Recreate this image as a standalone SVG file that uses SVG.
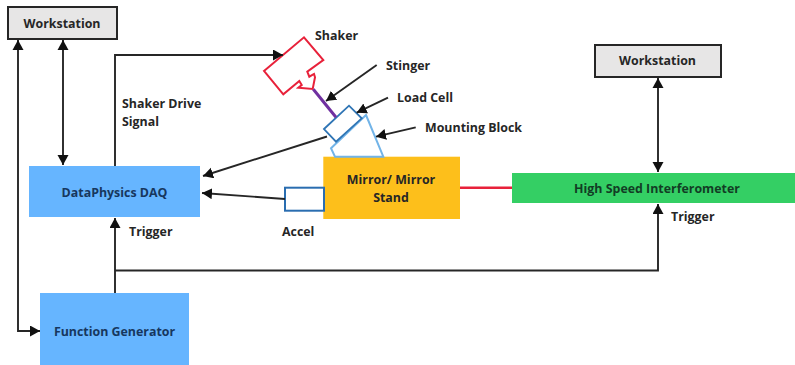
<svg xmlns="http://www.w3.org/2000/svg" width="795" height="365" viewBox="0 0 795 365">
<style>
text{font-family:"Open Sans","Liberation Sans",sans-serif;font-weight:700;font-size:12.4px;fill:#262626}
.c{text-anchor:middle}
.navy{fill:#17375e}
.grn{fill:#123d24}
.ws{fill:#e7e6e6;stroke:#262626;stroke-width:2}
.ln{fill:none;stroke:#262626;stroke-width:1.9}
.a{marker-end:url(#ah)}
.b{marker-start:url(#as);marker-end:url(#ah)}
</style>
<defs>
<marker id="ah" markerUnits="userSpaceOnUse" markerWidth="13" markerHeight="13" refX="10" refY="5.500" orient="auto"><path d="M0 0L10 5.500L0 11Z" fill="#111"/></marker>
<marker id="as" markerUnits="userSpaceOnUse" markerWidth="13" markerHeight="13" refX="0" refY="5.500" orient="auto"><path d="M10 0L0 5.500L10 11Z" fill="#111"/></marker>
</defs>
<rect width="795" height="365" fill="#fff"/>
<g id="workstation-left"><rect class="ws" x="8" y="7" width="109" height="32"/><text class="c" x="62" y="27.500">Workstation</text></g>
<g id="workstation-right"><rect class="ws" x="595" y="45" width="126" height="32"/><text class="c" x="657.500" y="65">Workstation</text></g>
<g id="daq"><rect x="29" y="166" width="171" height="51" fill="#66b5ff"/><text class="c navy" x="114.500" y="197">DataPhysics DAQ</text></g>
<g id="function-generator"><rect x="40" y="293" width="149" height="72" fill="#66b5ff"/><text class="c navy" x="114.500" y="336">Function Generator</text></g>
<g id="mirror"><rect x="323.300" y="156.700" width="136.700" height="62.300" fill="#fdbf1b"/><text class="c" x="391" y="183.500">Mirror/ Mirror</text><text class="c" x="391" y="201.500">Stand</text></g>
<g id="interferometer"><rect x="512" y="173" width="283" height="30" fill="#34cf64"/><text class="c grn" x="657" y="193">High Speed Interferometer</text></g>
<g id="shaker"><path d="M264 71L304 37.300L323.300 60L307.300 71.700L309.300 76.700L314 74L315 77.300L312.700 89L298.300 87.700L301.700 85L299.300 81L283.300 94.300Z" fill="#fff" stroke="#e8213a" stroke-width="2"/></g>
<g id="mounting-block"><path d="M366 115L383.300 156.700H335L331 148.300Z" fill="#fff" stroke="#72b4e8" stroke-width="2"/></g>
<g id="load-cell"><path d="M324 129L349 105.700L361.700 118.300L336 141.700Z" fill="#fff" stroke="#2f75b5" stroke-width="1.800"/></g>
<g id="accel"><rect x="285" y="187.700" width="39" height="23" fill="#fff" stroke="#2a6db0" stroke-width="2"/></g>
<g id="connectors">
<path class="ln b" d="M18 40V331H40"/>
<path class="ln b" d="M63 40V165"/>
<path class="ln a" d="M115 166V55H283"/>
<path class="ln a" d="M115 293V218"/>
<path class="ln a" d="M115 270.500H658V204"/>
<path class="ln b" d="M658 78V172"/>
<path class="ln a" d="M327 136.500L203 176"/>
<path class="ln a" d="M285 199L202 193"/>
<path class="ln a" d="M376.700 65L326 101"/>
<path class="ln a" d="M388 97.700L356.700 112.700"/>
<path class="ln a" d="M415.700 127.300L376 136.700"/>
<path d="M460 187.700H512" fill="none" stroke="#e8213a" stroke-width="2.500"/>
<path d="M313.300 89.300L336 117.300" fill="none" stroke="#7030a0" stroke-width="3"/>
</g>
<g id="labels">
<text x="315" y="40">Shaker</text>
<text x="386" y="70">Stinger</text>
<text x="397" y="102">Load Cell</text>
<text x="425" y="132">Mounting Block</text>
<text x="122" y="108">Shaker Drive</text>
<text x="122" y="126">Signal</text>
<text x="129" y="236">Trigger</text>
<text x="282" y="236">Accel</text>
<text x="671" y="221">Trigger</text>
</g>
</svg>
